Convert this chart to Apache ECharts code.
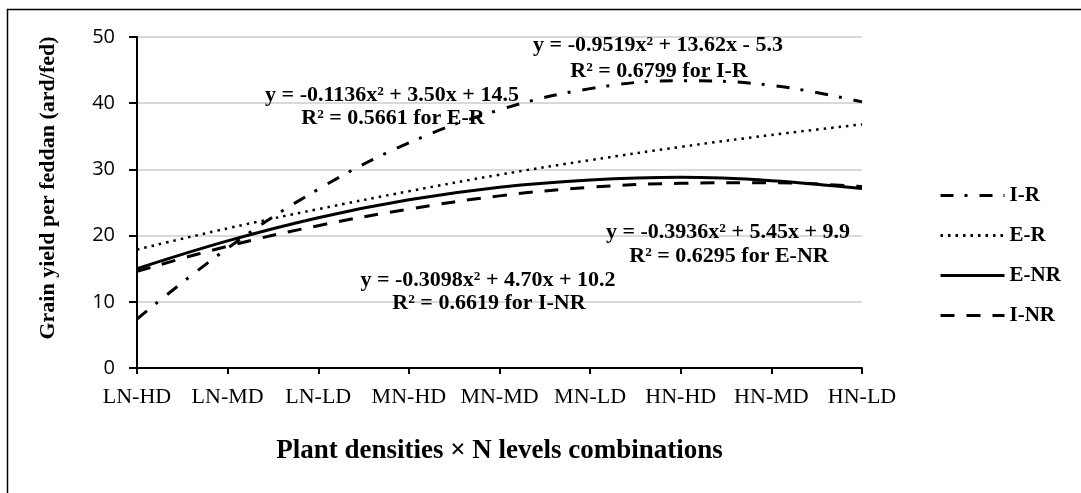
<!DOCTYPE html>
<html>
<head>
<meta charset="utf-8">
<script src="https://cdn.jsdelivr.net/npm/echarts@6/dist/echarts.min.js"></script>
<style>
html,body{margin:0;padding:0;background:#fff;}
#chart{width:1081px;height:493px;}
</style>
</head>
<body>
<div id="chart"></div>
<script>
const categories = ['LN-HD','LN-MD','LN-LD','MN-HD','MN-MD','MN-LD','HN-HD','HN-MD','HN-LD'];
const seriesNames = ['I-R','E-R','E-NR','I-NR'];
const valuesIR  = [7.4, 18.1, 27.0, 34.0, 39.0, 42.2, 43.4, 42.7, 40.2];
const valuesER  = [17.9, 21.1, 24.0, 26.7, 29.2, 31.4, 33.4, 35.2, 36.8];
const valuesENR = [15.0, 19.2, 22.7, 25.4, 27.3, 28.4, 28.8, 28.3, 27.1];
const valuesINR = [14.6, 18.4, 21.5, 24.0, 26.0, 27.3, 27.9, 28.0, 27.4];
const yTicks = [0, 10, 20, 30, 40, 50];
const equations = [
  'y = -0.9519x² + 13.62x - 5.3', 'R² = 0.6799 for I-R',
  'y = -0.1136x² + 3.50x + 14.5', 'R² = 0.5661 for E-R',
  'y = -0.3936x² + 5.45x + 9.9', 'R² = 0.6295 for E-NR',
  'y = -0.3098x² + 4.70x + 10.2', 'R² = 0.6619 for I-NR'
];

const serif = '"Liberation Serif", "Times New Roman", serif';
const chart = echarts.init(document.getElementById('chart'));

function eqText(text, x, y) {
  return {
    type: 'text', x: x, y: y, z: 5,
    style: { text: text, fill: '#000', font: 'bold 22px ' + serif, align: 'center', verticalAlign: 'middle' }
  };
}
const eqPos = [[658,45],[659,71],[392,95],[393,118],[728,232],[729,256],[488,280],[489,303]];

const styles = [
  { color: '#000', width: 3, type: [13, 11, 3, 12] },
  { color: '#000', width: 2.5, type: [2.5, 5] },
  { color: '#000', width: 3, type: 'solid' },
  { color: '#000', width: 3, type: [14, 12] }
];
const dataSets = [valuesIR, valuesER, valuesENR, valuesINR];

chart.setOption({
  animation: false,
  backgroundColor: '#fff',
  grid: { left: 137, right: 219, top: 37, bottom: 125, containLabel: false },
  legend: {
    orient: 'vertical', left: 939, top: 185, padding: 0,
    itemWidth: 64, itemHeight: 14, itemGap: 19,
    data: seriesNames,
    itemStyle: { color: 'rgba(0,0,0,0)', borderColor: 'rgba(0,0,0,0)', borderWidth: 0 },
    lineStyle: { width: 3 },
    textStyle: { fontFamily: serif, fontWeight: 'bold', fontSize: 21, color: '#000' }
  },
  xAxis: {
    type: 'category', data: categories, boundaryGap: false,
    name: 'Plant densities × N levels combinations',
    nameLocation: 'middle', nameGap: 70,
    nameTextStyle: { fontFamily: serif, fontWeight: 'bold', fontSize: 27, color: '#000' },
    axisLine: { lineStyle: { color: '#000', width: 2 } },
    axisTick: { show: true, length: 6, alignWithLabel: true, lineStyle: { color: '#000', width: 2 } },
    axisLabel: { fontFamily: serif, fontSize: 22, color: '#000', margin: 18, interval: 0 },
    splitLine: { show: false }
  },
  yAxis: {
    type: 'value', min: yTicks[0], max: yTicks[yTicks.length - 1], interval: 10,
    axisLine: { show: true, lineStyle: { color: '#000', width: 2 } },
    axisTick: { show: true, length: 8, lineStyle: { color: '#000', width: 2 } },
    axisLabel: { fontFamily: '"Open Sans", sans-serif', fontSize: 20, color: '#000', margin: 22 },
    splitLine: { show: true, lineStyle: { color: '#cccccc', width: 1.5 } }
  },
  series: seriesNames.map((n, i) => ({
    name: n, type: 'line', data: dataSets[i], smooth: 0.4,
    symbol: 'none', showSymbol: false,
    lineStyle: styles[i], itemStyle: { color: '#000' },
    z: 3
  })),
  graphic: [
    { type: 'rect', shape: { x: 7.5, y: 9.5, width: 1300, height: 700 }, style: { fill: 'none', stroke: '#000', lineWidth: 1.5 }, z: 0, silent: true },
    { type: 'text', x: 48, y: 188, rotation: Math.PI / 2, z: 5,
      style: { text: 'Grain yield per feddan (ard/fed)', fill: '#000', font: 'bold 22px ' + serif, align: 'center', verticalAlign: 'middle' } }
  ].concat(equations.map((t, i) => eqText(t, eqPos[i][0], eqPos[i][1])))
});
</script>
</body>
</html>
